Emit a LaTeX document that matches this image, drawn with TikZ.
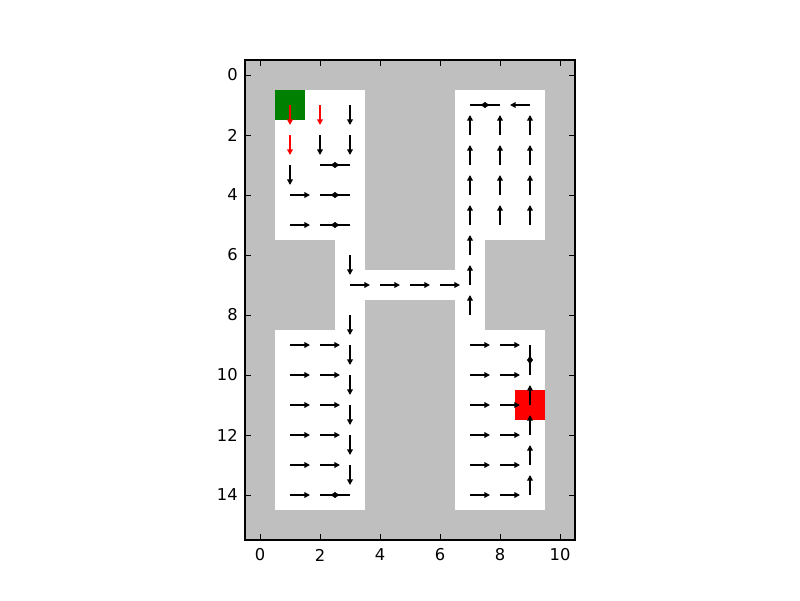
\documentclass[tikz,border=0pt]{standalone}
\usepackage{fontspec}
\setmainfont{DejaVu Sans}
\usetikzlibrary{arrows.meta}
\definecolor{wallgray}{RGB}{191,191,191}
\definecolor{startgreen}{RGB}{0,128,0}
\definecolor{goalred}{RGB}{255,0,0}
\tikzset{>={Triangle[length=0.14cm,width=0.14cm]}}
\tikzset{move/.style={->, line width=1.4pt}, tick/.style={line width=0.6pt}}

\begin{document}
\begin{tikzpicture}[x=0.75cm, y=-0.75cm, font=\fontsize{11.6}{13}\selectfont]
    \useasboundingbox (-8.6667,-2.5) rectangle (18,17.5);
    % walls
    \fill[wallgray] (-0.5,-0.5) rectangle (10.5,15.5);
    % free cells
    \fill[white] (0.5,0.5) rectangle (3.5,5.5);
    \fill[white] (6.5,0.5) rectangle (9.5,5.5);
    \fill[white] (2.5,5.5) rectangle (3.5,8.5);
    \fill[white] (6.5,5.5) rectangle (7.5,8.5);
    \fill[white] (2.5,6.5) rectangle (7.5,7.5);
    \fill[white] (0.5,8.5) rectangle (3.5,14.5);
    \fill[white] (6.5,8.5) rectangle (9.5,14.5);
    % start and goal
    \fill[startgreen] (0.5,0.5) rectangle (1.5,1.5);
    \fill[goalred] (8.5,10.5) rectangle (9.5,11.5);
    % policy arrows: down
    \foreach \c/\r in {1/1,2/1,1/2}
      \draw[move, goalred] (\c,\r) -- ++(0,0.667);
    \foreach \c/\r in {3/1,2/2,3/2,1/3,3/6,3/8,3/9,3/10,3/11,3/12,3/13,9/9}
      \draw[move] (\c,\r) -- ++(0,0.667);
    % up
    \foreach \c/\r in {7/2,8/2,9/2,7/3,8/3,9/3,7/4,8/4,9/4,7/5,8/5,9/5,
                       7/6,7/7,7/8,9/10,9/11,9/12,9/13,9/14}
      \draw[move] (\c,\r) -- ++(0,-0.667);
    % right
    \foreach \c/\r in {2/3,1/4,2/4,1/5,2/5,3/7,4/7,5/7,6/7,7/1,
                       1/9,2/9,1/10,2/10,1/11,2/11,1/12,2/12,1/13,2/13,1/14,2/14,
                       7/9,8/9,7/10,8/10,7/11,8/11,7/12,8/12,7/13,8/13,7/14,8/14}
      \draw[move] (\c,\r) -- ++(0.667,0);
    % left
    \foreach \c/\r in {3/3,3/4,3/5,8/1,9/1,3/14}
      \draw[move] (\c,\r) -- ++(-0.667,0);
    % frame
    \draw[line width=1pt] (-0.5,-0.5) rectangle (10.5,15.5);
    % x ticks
    \foreach \x in {0,2,...,10} {
      \draw[tick] (\x,15.5) -- (\x,15.313);
      \draw[tick] (\x,-0.5) -- (\x,-0.313);
      \node[inner sep=0] (xt\x) at (\x,16.0) {\x};
    }
    % y ticks
    \foreach \y in {0,2,...,14} {
      \draw[tick] (-0.5,\y) -- (-0.313,\y);
      \draw[tick] (10.5,\y) -- (10.313,\y);
      \node[inner sep=0, anchor=east] (yt\y) at (-0.733,\y) {\y};
    }
\end{tikzpicture}
\end{document}
